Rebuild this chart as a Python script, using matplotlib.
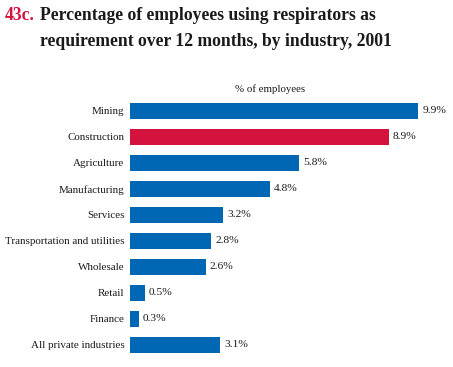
import matplotlib.pyplot as plt

industries = ["Mining", "Construction", "Agriculture", "Manufacturing", "Services",
              "Transportation and utilities", "Wholesale", "Retail", "Finance",
              "All private industries"]
values = [9.9, 8.9, 5.8, 4.8, 3.2, 2.8, 2.6, 0.5, 0.3, 3.1]
highlight = "Construction"

blue = "#0067b4"
red = "#d3123d"
serif = ["Liberation Serif", "DejaVu Serif"]

fig = plt.figure(figsize=(4.53, 3.67), dpi=100)
W, H = 453, 367
ax = fig.add_axes([130 / W, 1 - 358 / H, (W - 130) / W, 260 / H])

colors = [red if c == highlight else blue for c in industries]
ypos = list(range(len(industries)))
ax.barh(ypos, values, height=0.62, color=colors)
ax.set_ylim(len(industries) - 0.5, -0.5)
ax.set_xlim(0, 11.1)

for y, v in zip(ypos, values):
    ax.text(v + 0.14, y, f"{v}%", va="center", ha="left", fontsize=8.2,
            family=serif, color="#1a1a1a")

ax.set_yticks(ypos)
ax.set_yticklabels(industries, family=serif, fontsize=7.9, color="#1a1a1a")
ax.tick_params(axis="y", length=0, pad=4)
ax.set_xticks([])
for s in ax.spines.values():
    s.set_visible(False)

fig.text(270 / W, 1 - 89 / H, "% of employees", ha="center", va="center",
         fontsize=7.8, family=serif, color="#1a1a1a")

fig.text(5 / W, 1 - 16 / H, "43c.", ha="left", va="center", fontsize=12.7,
         family=serif, weight="bold", color=red)
fig.text(40 / W, 1 - 16 / H, "Percentage of employees using respirators as",
         ha="left", va="center", fontsize=12.7, family=serif, weight="bold",
         color="#1a1a1a")
fig.text(40 / W, 1 - 42 / H, "requirement over 12 months, by industry, 2001",
         ha="left", va="center", fontsize=12.7, family=serif, weight="bold",
         color="#1a1a1a")

fig.savefig("out.png", dpi=100)
